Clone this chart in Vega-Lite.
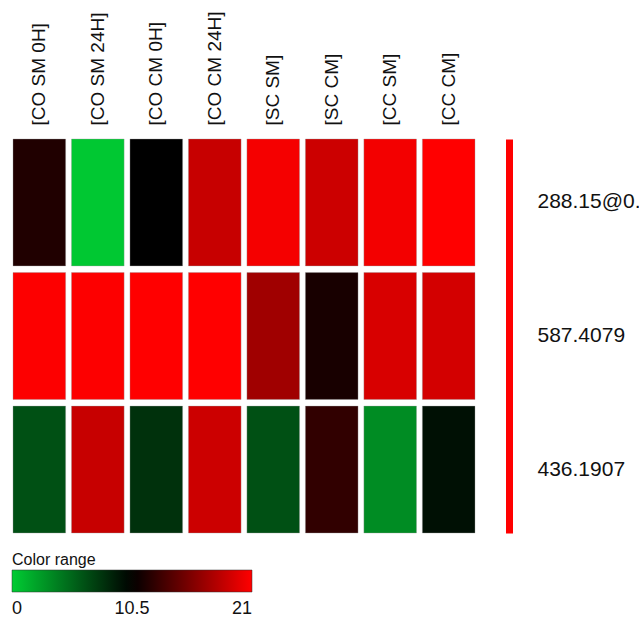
{
  "$schema": "https://vega.github.io/schema/vega-lite/v6.json",
  "width": 462,
  "height": 394,
  "autosize": {"type": "none"},
  "padding": {"left": 13, "top": 139, "right": 164, "bottom": 93},
  "background": "white",
  "config": {
    "font": "Liberation Sans",
    "view": {"stroke": null}
  },
  "data": {
    "values": [
      {"sample": "[CO SM 0H]", "mz": "288.15@0.57", "value": 11.8},
      {"sample": "[CO SM 24H]", "mz": "288.15@0.57", "value": 0.2},
      {"sample": "[CO CM 0H]", "mz": "288.15@0.57", "value": 10.5},
      {"sample": "[CO CM 24H]", "mz": "288.15@0.57", "value": 18.7},
      {"sample": "[SC SM]", "mz": "288.15@0.57", "value": 20.6},
      {"sample": "[SC CM]", "mz": "288.15@0.57", "value": 18.9},
      {"sample": "[CC SM]", "mz": "288.15@0.57", "value": 20.5},
      {"sample": "[CC CM]", "mz": "288.15@0.57", "value": 21.0},
      {"sample": "[CO SM 0H]", "mz": "587.4079", "value": 20.9},
      {"sample": "[CO SM 24H]", "mz": "587.4079", "value": 20.9},
      {"sample": "[CO CM 0H]", "mz": "587.4079", "value": 21.0},
      {"sample": "[CO CM 24H]", "mz": "587.4079", "value": 21.0},
      {"sample": "[SC SM]", "mz": "587.4079", "value": 17.1},
      {"sample": "[SC CM]", "mz": "587.4079", "value": 11.5},
      {"sample": "[CC SM]", "mz": "587.4079", "value": 19.4},
      {"sample": "[CC CM]", "mz": "587.4079", "value": 19.2},
      {"sample": "[CO SM 0H]", "mz": "436.1907", "value": 6.4},
      {"sample": "[CO SM 24H]", "mz": "436.1907", "value": 18.7},
      {"sample": "[CO CM 0H]", "mz": "436.1907", "value": 8.0},
      {"sample": "[CO CM 24H]", "mz": "436.1907", "value": 18.9},
      {"sample": "[SC SM]", "mz": "436.1907", "value": 6.4},
      {"sample": "[SC CM]", "mz": "436.1907", "value": 12.5},
      {"sample": "[CC SM]", "mz": "436.1907", "value": 3.3},
      {"sample": "[CC CM]", "mz": "436.1907", "value": 9.7}
    ]
  },
  "mark": {"type": "rect", "stroke": "#999999", "strokeWidth": 0.6, "strokeOpacity": 0.6},
  "encoding": {
    "x": {
      "field": "sample",
      "type": "nominal",
      "sort": ["[CO SM 0H]", "[CO SM 24H]", "[CO CM 0H]", "[CO CM 24H]", "[SC SM]", "[SC CM]", "[CC SM]", "[CC CM]"],
      "scale": {"paddingInner": 0.1, "paddingOuter": 0},
      "axis": {
        "orient": "top",
        "title": null,
        "domain": false,
        "ticks": false,
        "tickSize": 0,
        "labelAngle": -90,
        "labelAlign": "left",
        "labelBaseline": "middle",
        "labelPadding": 14,
        "labelFontSize": 19,
        "labelColor": "#111111",
        "labelFont": "Liberation Sans"
      }
    },
    "y": {
      "field": "mz",
      "type": "nominal",
      "sort": ["288.15@0.57", "587.4079", "436.1907"],
      "scale": {"paddingInner": 0.05, "paddingOuter": 0},
      "axis": {
        "orient": "right",
        "title": null,
        "offset": 34,
        "domain": true,
        "domainColor": "#ff0000",
        "domainWidth": 7,
        "domainCap": "butt",
        "ticks": false,
        "tickSize": 0,
        "labelPadding": 28,
        "labelFontSize": 21,
        "labelColor": "#111111",
        "labelAlign": "left",
        "labelBaseline": "middle",
        "labelLimit": 0
      }
    },
    "color": {
      "field": "value",
      "type": "quantitative",
      "scale": {"domain": [0, 10.5, 21], "range": ["#00cc33", "#000000", "#ff0000"], "interpolate": "rgb"},
      "legend": {
        "title": "Color range",
        "orient": "none",
        "direction": "horizontal",
        "legendX": -1,
        "legendY": 413,
        "gradientLength": 240,
        "gradientThickness": 22,
        "gradientStrokeColor": "#333333",
        "gradientStrokeWidth": 0.5,
        "values": [0, 10.5, 21],
        "format": ".1~f",
        "labelFontSize": 18,
        "labelColor": "#111111",
        "labelOffset": 8,
        "titleFontSize": 16,
        "titleFontWeight": "normal",
        "titleColor": "#111111",
        "titlePadding": 2,
        "titleAnchor": "start"
      }
    }
  }
}
